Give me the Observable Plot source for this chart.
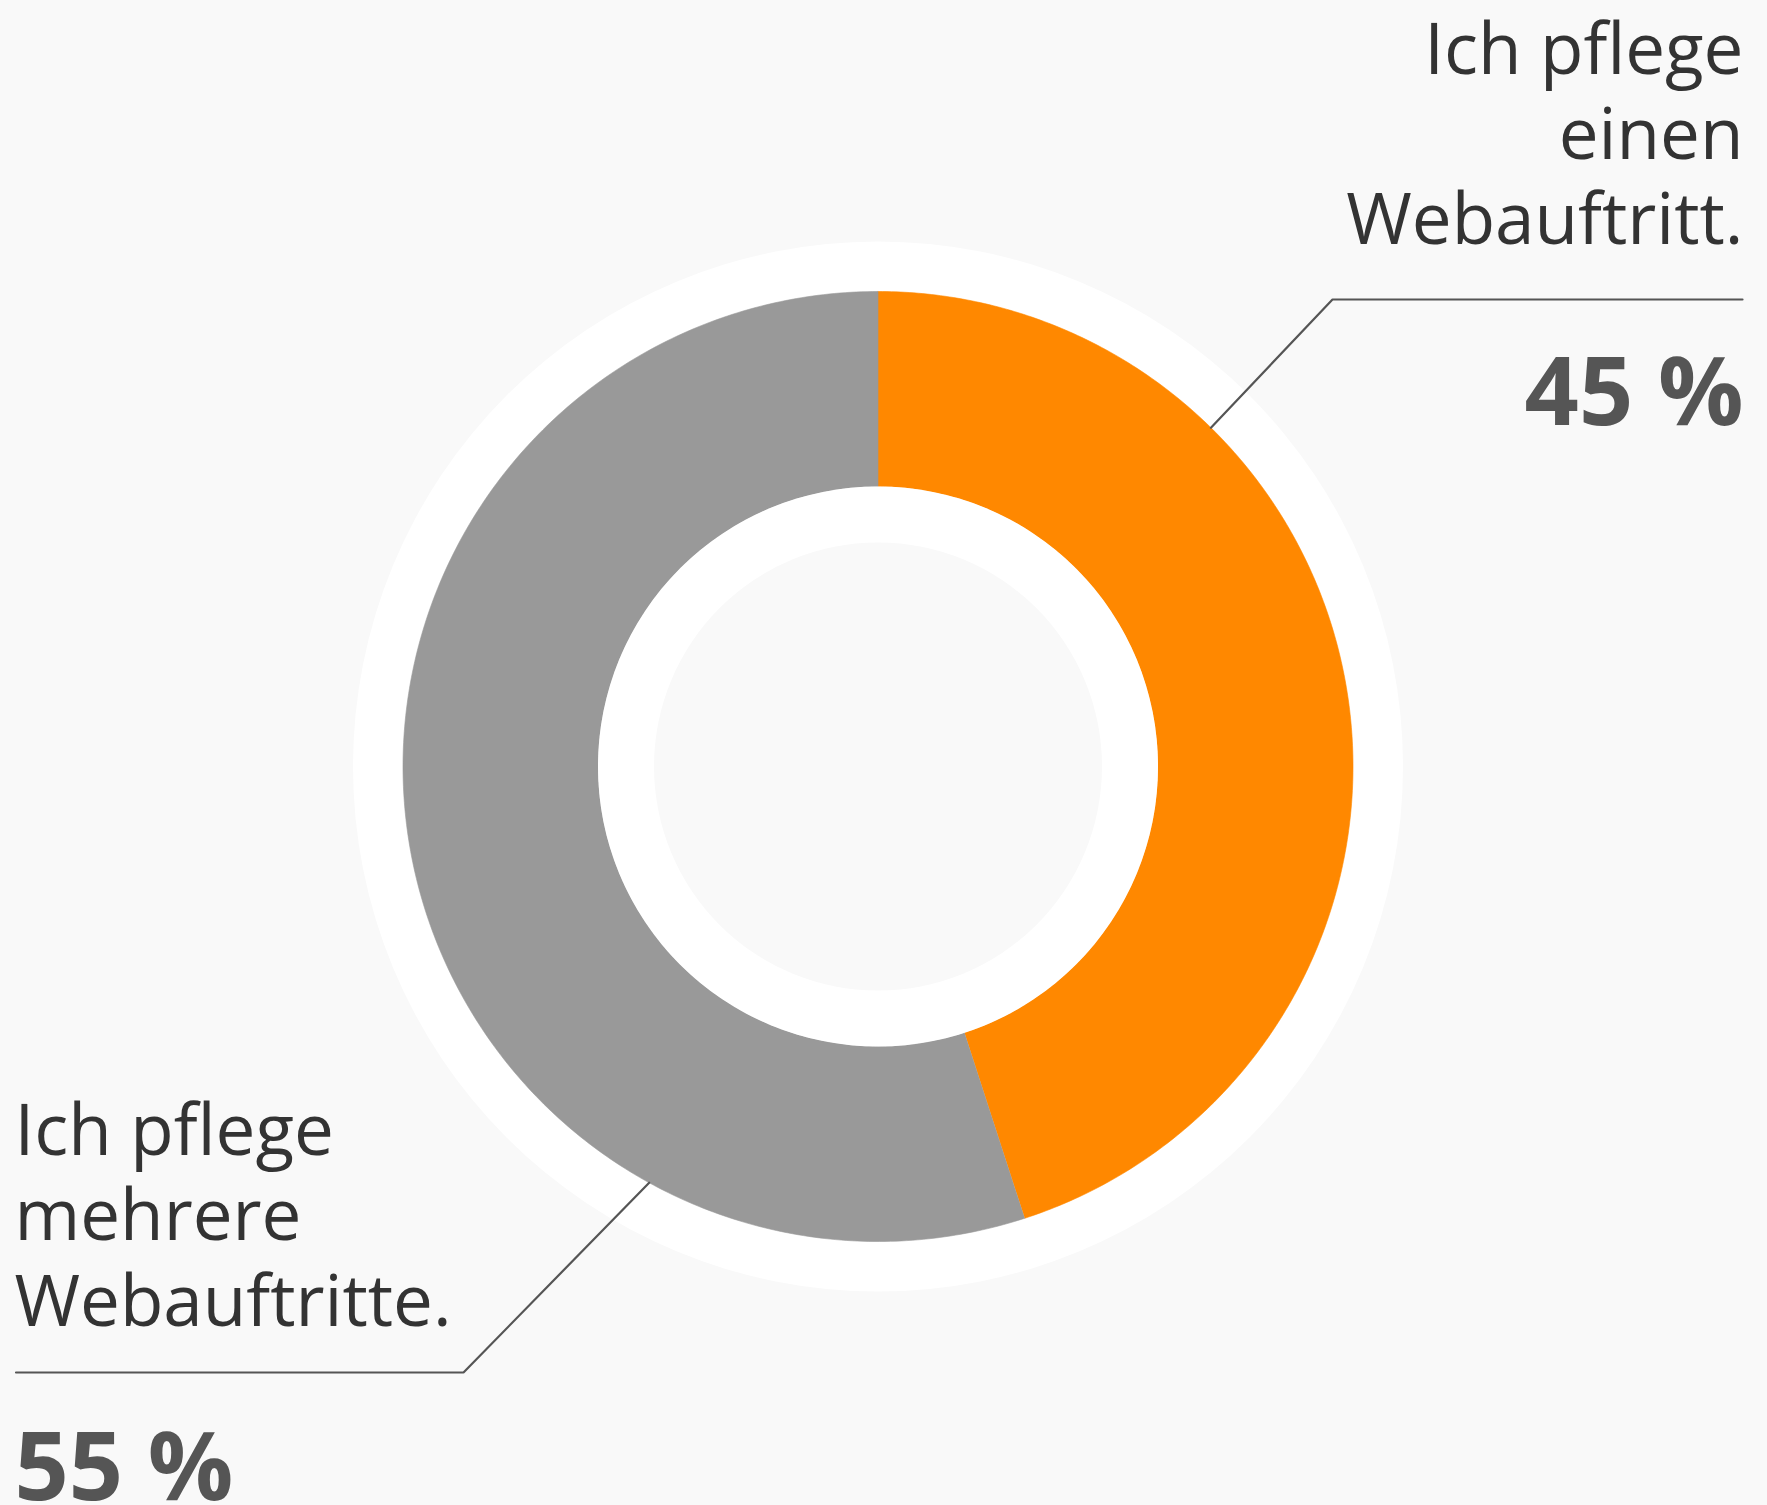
<!DOCTYPE html>
<html>
<head>
<meta charset="utf-8">
<script src="https://cdn.jsdelivr.net/npm/d3@7"></script>
<script src="https://cdn.jsdelivr.net/npm/@observablehq/plot@0.6"></script>
<style>
  html, body { margin: 0; padding: 0; background: #f9f9f9; }
  #chart svg { display: block; }
</style>
</head>
<body>
<div id="chart"></div>
<script>
// ---- data ----
const categories = ["Ich pflege einen Webauftritt.", "Ich pflege mehrere Webauftritte."];
const labelLines = ["Ich pflege\neinen\nWebauftritt.", "Ich pflege\nmehrere\nWebauftritte."];
const shares = [45, 55];
const sliceColors = ["#ff8800", "#999999"];
const percentLabels = shares.map(v => `${v} %`);

// ---- layout ----
const W = 1767, H = 1505;
const cx = 877.5, cy = 766;
const R_WHITE = 525, R_OUT = 475, R_IN = 280, R_HOLE = 224;
const BG = "#f9f9f9";
const leaderAngle = [44.5, 208.8];
const leaderElbow = [[1332, 299], [463, 1372]];
const leaderEnd = [1742, 15.5];
const labelX = [1743, 14];
const labelBaseline = [243.5, 1325];
const pctBaseline = [424, 1499];
const labelAnchor = ["end", "start"];

const polar = (a, r) => [cx + r * Math.sin(a), cy - r * Math.cos(a)];

// slices from the values via d3.pie
const arcs = d3.pie().sort(null).startAngle(0).endAngle(2 * Math.PI)(shares);
const slicePts = [];
arcs.forEach((d, k) => {
  const n = 300;
  for (let i = 0; i <= n; i++) {
    const a = d.startAngle + (d.endAngle - d.startAngle) * i / n;
    const [x, y] = polar(a, R_OUT);
    slicePts.push({category: categories[k], x, y});
  }
  for (let i = n; i >= 0; i--) {
    const a = d.startAngle + (d.endAngle - d.startAngle) * i / n;
    const [x, y] = polar(a, R_IN);
    slicePts.push({category: categories[k], x, y});
  }
});

const leaderPts = [];
categories.forEach((c, k) => {
  const [x0, y0] = polar(leaderAngle[k] * Math.PI / 180, R_OUT);
  leaderPts.push({category: c, x: x0, y: y0});
  leaderPts.push({category: c, x: leaderElbow[k][0], y: leaderElbow[k][1]});
  leaderPts.push({category: c, x: leaderEnd[k], y: leaderElbow[k][1]});
});

const labelRows = categories.map((c, k) => ({
  category: c, text: labelLines[k], pct: percentLabels[k],
  x: labelX[k], y: labelBaseline[k], py: pctBaseline[k], anchor: labelAnchor[k]
}));

const center = [{x: cx, y: cy}];

const textMarks = [];
["end", "start"].forEach(anchor => {
  const rows = labelRows.filter(d => d.anchor === anchor);
  textMarks.push(Plot.text(rows, {
    x: "x", y: "y", text: "text", textAnchor: anchor, lineAnchor: "bottom",
    lineHeight: 1.2, fontSize: 71, fontFamily: "Open Sans", fill: "#333333"
  }));
  textMarks.push(Plot.text(rows, {
    x: "x", y: "py", text: "pct", textAnchor: anchor, lineAnchor: "bottom",
    fontSize: 95, fontWeight: "bold", fontFamily: "Open Sans", fill: "#555555"
  }));
});

const chart = Plot.plot({
  width: W, height: H,
  marginTop: 0, marginRight: 0, marginBottom: 0, marginLeft: 0,
  x: {domain: [0, W], range: [0, W], axis: null},
  y: {domain: [0, H], range: [0, H], axis: null},
  color: {domain: categories, range: sliceColors},
  style: {background: BG, overflow: "visible"},
  marks: [
    Plot.dot(center, {x: "x", y: "y", r: R_WHITE, fill: "#ffffff", stroke: null}),
    Plot.line(slicePts, {x: "x", y: "y", z: "category", fill: "category", stroke: "category", strokeWidth: 0.6}),
    Plot.dot(center, {x: "x", y: "y", r: R_IN, fill: "#ffffff", stroke: null}),
    Plot.dot(center, {x: "x", y: "y", r: R_HOLE, fill: BG, stroke: null}),
    Plot.line(leaderPts, {x: "x", y: "y", z: "category", stroke: "#555555", strokeWidth: 2.2, strokeLinejoin: "miter"}),
    ...textMarks
  ]
});
document.getElementById("chart").appendChild(chart);
</script>
</body>
</html>
